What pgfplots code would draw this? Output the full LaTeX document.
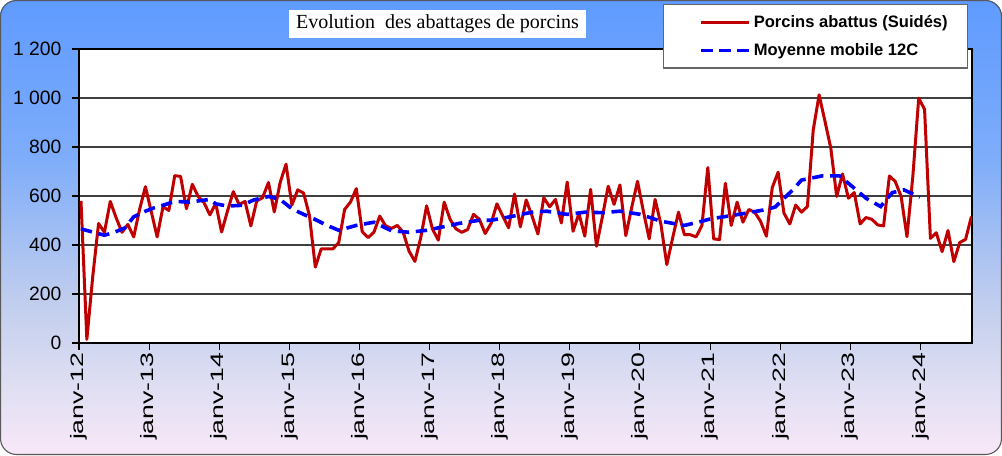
\documentclass[border=0pt]{standalone}
\usepackage{fontspec}
\setmainfont{Liberation Sans}
\newfontfamily\serifT{Liberation Serif}
\usepackage{graphicx}
\usepackage{pgfplots}
\pgfplotsset{compat=1.18}

\definecolor{bgtop}{RGB}{95,155,255}
\definecolor{bgc3}{RGB}{125,172,250}
\definecolor{bgc2}{RGB}{192,205,238}
\definecolor{bgc1}{RGB}{222,222,242}
\definecolor{bgbot}{RGB}{248,232,248}
\definecolor{redline}{RGB}{192,0,0}
\pgfdeclareverticalshading{bgshade}{100bp}{color(0bp)=(bgbot); color(25bp)=(bgbot); color(33bp)=(bgc1); color(42bp)=(bgc2); color(58bp)=(bgc3); color(75bp)=(bgtop); color(100bp)=(bgtop)}

\pgfplotstableread{
x y
0 580
1 15
2 270
3 488
4 452
5 578
6 511
7 452
8 484
9 433
10 545
11 638
12 536
13 433
14 556
15 541
16 683
17 680
18 548
19 648
20 598
21 573
22 523
23 570
24 453
25 538
26 618
27 565
28 578
29 478
30 580
31 593
32 655
33 535
34 655
35 730
36 563
37 625
38 612
39 520
40 310
41 384
42 384
43 384
44 410
45 545
46 575
47 630
48 455
49 430
50 452
51 518
52 478
53 468
54 480
55 452
56 375
57 333
58 430
59 560
60 465
61 420
62 575
63 505
64 466
65 452
66 463
67 525
68 505
69 447
70 488
71 568
72 518
73 470
74 608
75 474
76 584
77 518
78 445
79 593
80 556
81 586
82 490
83 657
84 456
85 529
86 436
87 627
88 395
89 515
90 640
91 566
92 645
93 438
94 552
95 660
96 538
97 425
98 586
99 484
100 320
101 429
102 534
103 442
104 442
105 433
106 480
107 716
108 425
109 422
110 652
111 480
112 575
113 493
114 545
115 534
116 497
117 436
118 634
119 697
120 530
121 486
122 563
123 534
124 557
125 870
126 1013
127 905
128 795
129 598
130 690
131 591
132 614
133 486
134 512
135 505
136 482
137 478
138 682
139 659
140 598
141 434
142 680
143 999
144 954
145 427
146 450
147 373
148 459
149 332
150 410
151 423
152 516
}\porcins

\pgfplotstableread{
x y
0 466
1.5 456
4 440
5.5 450
7.5 470
9 515
11 538
12.5 552
14.5 566
16 578
18.5 575
20 580
22 586
23 568
25 559
27.5 562
29.5 584
32 598
34 586
36 548
38 525
40 504
42 480
44 460
47 480
50 493
53 458
56 452
59 460
61 470
64.5 488
68 501
70 501
73 514
77 534
79.5 538
83 525
86 534
89 532
92 538
95.5 525
99 497
103 480
106 497
107.5 507
110.5 518
114 532
117 545
118.5 555
120 590
121.5 625
123 665
126.5 682
129.5 682
131 652
134 591
136.5 557
138.5 614
140.5 625
143.2 595
}\moyenne

\begin{document}
\begin{tikzpicture}[x=1pt,y=1pt]
\useasboundingbox (0,0) rectangle (751.5,341.25);
\shade[shading=bgshade, rounded corners=12pt] (0,0) rectangle (751.5,341.25);
\draw[rounded corners=12pt, draw=black!65, line width=0.8pt] (0.4,0.4) rectangle (751.1,340.85);
\begin{axis}[
  at={(59.25pt,84pt)}, anchor=south west,
  scale only axis, width=669.75pt, height=220.5pt,
  xmin=-0.34, xmax=152.1, ymin=0, ymax=1200,
  axis background/.style={fill=white},
  axis line style={black, line width=1.2pt},
  ytick={0,200,...,1200},
  ymajorgrids,
  grid style={black!75, line width=0.8pt},
  xtick={-0.34,11.63,23.6,35.57,47.54,59.5,71.5,83.45,95.4,107.4,119.4,131.3,143.3},
  xticklabels={
    \scalebox{1.48}[1]{janv-12},\scalebox{1.48}[1]{janv-13},\scalebox{1.48}[1]{janv-14},
    \scalebox{1.48}[1]{janv-15},\scalebox{1.48}[1]{janv-16},\scalebox{1.48}[1]{janv-17},
    \scalebox{1.48}[1]{janv-18},\scalebox{1.48}[1]{janv-19},\scalebox{1.48}[1]{janv-20},
    \scalebox{1.48}[1]{janv-21},\scalebox{1.48}[1]{janv-22},\scalebox{1.48}[1]{janv-23},
    \scalebox{1.48}[1]{janv-24}},
  tick align=outside, major tick length=5pt,
  tick style={black, line width=0.9pt},
  xtick pos=bottom, ytick pos=left,
  /pgf/number format/assume math mode=true,
  /pgf/number format/1000 sep={\ },
  yticklabel style={font=\fontsize{14.5}{14.5}\selectfont, inner sep=2pt, xshift=-6pt},
  xticklabel style={rotate=90, anchor=east, font=\fontsize{13.5}{13.5}\selectfont, inner sep=2pt},
  legend style={at={(axis description cs:0.654,1.153)}, anchor=north west,
    draw=black!60, line width=0.8pt, fill=white,
    inner xsep=13pt, inner ysep=6pt, row sep=6.5pt,
    font=\bfseries\fontsize{12.4}{14}\selectfont,
    nodes={inner sep=2pt}},
  legend cell align=left,
  legend image code/.code={\path (0pt,0pt); \draw[#1] (14pt,0pt) -- (50pt,0pt);},
]
\addplot[color=redline, line width=2.25pt, line join=round] table[x=x,y=y] {\porcins};
\addlegendentry{Porcins abattus (Suidés)}
\addplot[color=blue, line width=2.7pt, dash pattern=on 8.5pt off 5pt] table[x=x,y=y] {\moyenne};
\addlegendentry{Moyenne mobile 12C}
\end{axis}
\node[fill=white, minimum width=222.75pt, minimum height=21pt, inner sep=0pt,
  font=\serifT\fontsize{15}{16}\selectfont] at (328.1,323.25) {Evolution\ \ des abattages de porcins};
\end{tikzpicture}
\end{document}
